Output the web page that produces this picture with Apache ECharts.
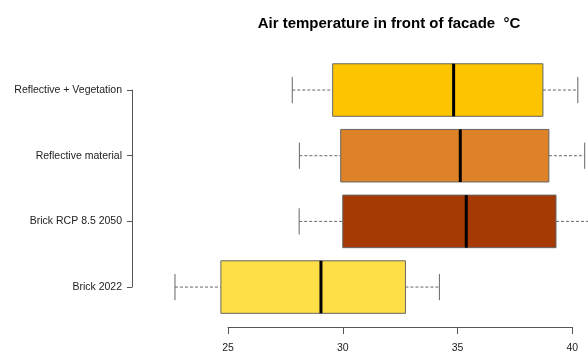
<!DOCTYPE html>
<html>
<head>
<meta charset="utf-8">
<script src="https://cdn.jsdelivr.net/npm/echarts@6/dist/echarts.min.js"></script>
<style>html,body{margin:0;padding:0;background:#fff;}#c{width:588px;height:354px;}</style>
</head>
<body>
<div id="c"></div>
<script>
// categories, bottom to top
const categories = ['Brick 2022', 'Brick RCP 8.5 2050', 'Reflective material', 'Reflective + Vegetation'];
// five-number summaries: [low whisker, Q1, median, Q3, high whisker]
const brick2022      = [22.69, 24.69, 29.05, 32.73, 34.21];
const brickRcp2050   = [28.10, 30.00, 35.38, 39.29, 41.10];
const reflective     = [28.11, 29.91, 35.12, 38.98, 40.54];
const reflectiveVeg  = [27.80, 29.56, 34.83, 38.72, 40.24];
const xTicks = [25, 30, 35, 40];

const summaries = [brick2022, brickRcp2050, reflective, reflectiveVeg];
const fills = ['#FEDF48', '#A53A05', '#DE8228', '#FDC400'];

const k = 22.953;           // px per unit
const x25 = 228;
const chart = echarts.init(document.getElementById('c'));
const font = '"Liberation Sans", Arial, sans-serif';

function renderBox(params, api) {
  const cat = api.value(0);
  const pLo = api.coord([api.value(1), cat]);
  const pQ1 = api.coord([api.value(2), cat]);
  const pMd = api.coord([api.value(3), cat]);
  const pQ3 = api.coord([api.value(4), cat]);
  const pHi = api.coord([api.value(5), cat]);
  const bw = api.size([0, 1])[1] * 0.8;
  const y = pMd[1];
  const cap = bw / 4;
  const grey = '#666';
  const dash = {stroke: grey, lineWidth: 1, lineDash: [3, 2]};
  return {
    type: 'group',
    children: [
      {type: 'line', shape: {x1: pLo[0], y1: y, x2: pQ1[0], y2: y}, style: dash},
      {type: 'line', shape: {x1: pQ3[0], y1: y, x2: pHi[0], y2: y}, style: dash},
      {type: 'line', shape: {x1: pLo[0], y1: y - cap, x2: pLo[0], y2: y + cap}, style: {stroke: grey, lineWidth: 1}},
      {type: 'line', shape: {x1: pHi[0], y1: y - cap, x2: pHi[0], y2: y + cap}, style: {stroke: grey, lineWidth: 1}},
      {type: 'rect', shape: {x: pQ1[0], y: y - bw / 2, width: pQ3[0] - pQ1[0], height: bw},
       style: {fill: fills[params.dataIndex], stroke: grey, lineWidth: 1}},
      {type: 'line', shape: {x1: pMd[0], y1: y - bw / 2, x2: pMd[0], y2: y + bw / 2}, style: {stroke: '#000', lineWidth: 3}}
    ]
  };
}

const boxData = summaries.map((s, i) => [i].concat(s));

chart.setOption({
  animation: false,
  title: {
    text: 'Air temperature in front of facade  °C',
    left: 384, top: 11, textAlign: 'center',
    textStyle: {fontFamily: font, fontSize: 15, fontWeight: 'bold', color: '#000'}
  },
  grid: [
    {left: x25 - 5 * k, width: 20 * k, top: 57.2, height: 262.7},
    {left: x25, width: 15 * k, top: 300, bottom: 25},
    {left: 132, width: 10, top: 90, height: 197}
  ],
  xAxis: [
    {gridIndex: 0, type: 'value', min: 20, max: 40, show: false},
    {gridIndex: 1, type: 'value', min: xTicks[0], max: xTicks[xTicks.length - 1], interval: 5,
     axisLine: {show: true, lineStyle: {color: '#555', width: 1}},
     axisTick: {show: true, length: 7, lineStyle: {color: '#555'}},
     splitLine: {show: false},
     axisLabel: {margin: 16, fontFamily: font, fontSize: 10.5, color: '#222'}},
    {gridIndex: 2, type: 'value', show: false}
  ],
  yAxis: [
    {gridIndex: 0, type: 'category', data: categories, boundaryGap: true, show: false},
    {gridIndex: 1, type: 'value', show: false},
    {gridIndex: 2, type: 'category', data: categories, boundaryGap: false,
     axisLine: {show: true, lineStyle: {color: '#555', width: 1}},
     axisTick: {show: true, length: 5, lineStyle: {color: '#555'}},
     axisLabel: {margin: 10, fontFamily: font, fontSize: 10.5, color: '#222'}}
  ],
  series: [{
    type: 'custom',
    xAxisIndex: 0, yAxisIndex: 0,
    clip: false,
    renderItem: renderBox,
    encode: {x: [1, 2, 3, 4, 5], y: 0},
    data: boxData
  }]
});
</script>
</body>
</html>
